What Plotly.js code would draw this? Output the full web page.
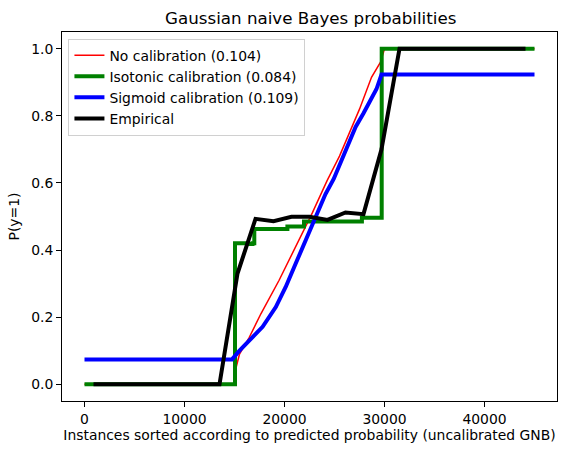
<!DOCTYPE html>
<html>
<head>
<meta charset="utf-8">
<script src="https://cdn.plot.ly/plotly-3.0.1.min.js"></script>
<style>html,body{margin:0;padding:0;background:#fff;}#chart{width:567px;height:455px;}</style>
</head>
<body>
<div id="chart"></div>
<script>
// No calibration (uncalibrated GNB, sorted)
const noCalX = [0, 14900, 15160, 15500, 16480, 17640, 19460, 21110, 22770, 24260, 25500, 26500, 27500, 28700, 29600, 30000, 45000];
const noCalY = [0, 0.0, 0.05, 0.09, 0.14, 0.21, 0.31, 0.41, 0.51, 0.607, 0.68, 0.75, 0.82, 0.915, 0.96, 1.0, 1.0];
// Isotonic calibration (step function)
const isoX = [0, 15050, 16300, 16800, 16980, 20290, 21950, 27740, 29720, 45000];
const isoY = [0, 0.42, 0.418, 0.42, 0.463, 0.470, 0.485, 0.496, 1.0, 1.0];
// Sigmoid calibration
const sigX = [0, 14750, 15500, 16480, 17810, 19130, 20120, 21110, 22110, 23100, 24100, 24920, 25420, 26200, 27110, 27900, 28600, 29200, 29700, 45000];
const sigY = [0.074, 0.074, 0.100, 0.131, 0.171, 0.230, 0.290, 0.359, 0.429, 0.498, 0.567, 0.612, 0.648, 0.705, 0.767, 0.808, 0.845, 0.880, 0.923, 0.923];
// Empirical (binned means)
const empX = [900, 2700, 4500, 6300, 8100, 9900, 11700, 13500, 15300, 17100, 18900, 20700, 22500, 24300, 26100, 27900, 29700, 31500, 33300, 35100, 36900, 38700, 40500, 42300, 44100];
const empY = [0, 0, 0, 0, 0, 0, 0, 0, 0.33, 0.493, 0.486, 0.499, 0.499, 0.49, 0.512, 0.507, 0.70, 1.0, 1.0, 1.0, 1.0, 1.0, 1.0, 1.0, 1.0];

const labels = ['No calibration (0.104)', 'Isotonic calibration (0.084)', 'Sigmoid calibration (0.109)', 'Empirical'];
const xTicks = [0, 10000, 20000, 30000, 40000];
const yTicks = [0, 0.2, 0.4, 0.6, 0.8, 1.0];

const font = {family: 'DejaVu Sans', size: 13.9, color: '#000'};
const traces = [
  {x: noCalX, y: noCalY, mode: 'lines', name: labels[0], line: {color: '#ff0000', width: 1.5}},
  {x: isoX, y: isoY, mode: 'lines', name: labels[1], line: {color: '#008000', width: 4, shape: 'hv'}},
  {x: sigX, y: sigY, mode: 'lines', name: labels[2], line: {color: '#0000ff', width: 4}},
  {x: empX, y: empY, mode: 'lines', name: labels[3], line: {color: '#000000', width: 4}}
];
const axisCommon = {showline: true, linecolor: '#000', linewidth: 1, mirror: true, showgrid: false, zeroline: false, ticks: 'outside', ticklen: 5, tickwidth: 1, tickcolor: '#000', tickfont: font};
const layout = {
  width: 567, height: 455,
  margin: {l: 62, r: 10, t: 32, b: 54},
  paper_bgcolor: '#fff', plot_bgcolor: '#fff',
  font: font,
  title: {text: 'Gaussian naive Bayes probabilities', font: {family: 'DejaVu Sans', size: 16.7, color: '#000'}, x: 0.548, xanchor: 'center', y: 0.96, yanchor: 'middle'},
  xaxis: Object.assign({}, axisCommon, {range: [-2250, 47250], tickvals: xTicks, ticktext: xTicks.map(String), title: {text: 'Instances sorted according to predicted probability (uncalibrated GNB)', font: font, standoff: 4}}),
  yaxis: Object.assign({}, axisCommon, {range: [-0.05, 1.05], tickvals: yTicks, ticktext: yTicks.map(v => v.toFixed(1)), title: {text: 'P(y=1)', font: font, standoff: 8}}),
  legend: {x: 0.013, y: 0.982, xanchor: 'left', yanchor: 'top', bgcolor: 'rgba(255,255,255,0.8)', bordercolor: '#d0d0d0', borderwidth: 1, font: font, itemwidth: 30, tracegroupgap: 0},
  showlegend: true
};
Plotly.newPlot('chart', traces, layout, {displayModeBar: false, staticPlot: true});
</script>
</body>
</html>
